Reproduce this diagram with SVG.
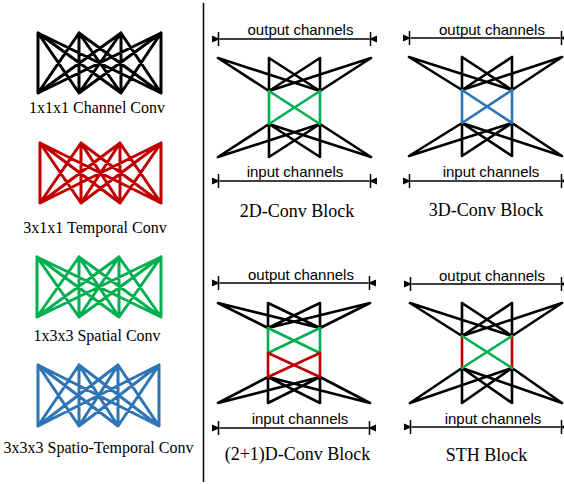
<svg xmlns="http://www.w3.org/2000/svg" width="564" height="484" viewBox="0 0 564 484">
<style>
.lbl{font-family:"Liberation Serif","Times New Roman",serif;font-size:16px;fill:#000;text-anchor:middle}
.blk{font-family:"Liberation Serif","Times New Roman",serif;font-size:18px;fill:#000;text-anchor:middle}
.ch{font-family:"Liberation Sans",Arial,sans-serif;font-size:15px;fill:#000;text-anchor:middle}
.e{fill:none;stroke-width:3;stroke-linecap:round;stroke-linejoin:round}
.b{fill:none;stroke-width:2.6;stroke-linecap:round;stroke-linejoin:round}
.k{stroke:#000}
.r{stroke:#C00000}
.g{stroke:#00B050}
.u{stroke:#2E75B6}
.dim{stroke:#000;stroke-width:1.5;fill:none}
</style>
<defs>
<marker id="ah" viewBox="0 0 8 8" refX="0.5" refY="4" markerWidth="8" markerHeight="8" markerUnits="userSpaceOnUse" orient="auto-start-reverse">
<path d="M0 4L8 0.5L8 7.5Z" fill="#000"/>
</marker>
</defs>
<line x1="203.5" y1="3" x2="203.5" y2="482" stroke="#000" stroke-width="1.5"/>

<g id="channel-conv">
<path class="e k" d="M38 33L38 93M38 33L79 93M38 33L121 93M38 33L161 93M79 33L38 93M79 33L79 93M79 33L121 93M79 33L161 93M121 33L38 93M121 33L79 93M121 33L121 93M121 33L161 93M161 33L38 93M161 33L79 93M161 33L121 93M161 33L161 93"/>
<text class="lbl" x="97" y="113">1x1x1 Channel Conv</text>
</g>
<g id="temporal-conv">
<path class="e r" d="M40 143L40 203M40 143L81 203M40 143L120 203M40 143L161 203M81 143L40 203M81 143L81 203M81 143L120 203M81 143L161 203M120 143L40 203M120 143L81 203M120 143L120 203M120 143L161 203M161 143L40 203M161 143L81 203M161 143L120 203M161 143L161 203"/>
<text class="lbl" x="95" y="233">3x1x1 Temporal Conv</text>
</g>
<g id="spatial-conv">
<path class="e g" d="M37 257L37 317M37 257L79 317M37 257L119 317M37 257L161 317M79 257L37 317M79 257L79 317M79 257L119 317M79 257L161 317M119 257L37 317M119 257L79 317M119 257L119 317M119 257L161 317M161 257L37 317M161 257L79 317M161 257L119 317M161 257L161 317"/>
<text class="lbl" x="97" y="341">1x3x3 Spatial Conv</text>
</g>
<g id="spatiotemporal-conv">
<path class="e u" d="M38 365L38 426M38 365L79 426M38 365L118 426M38 365L159 426M79 365L38 426M79 365L79 426M79 365L118 426M79 365L159 426M118 365L38 426M118 365L79 426M118 365L118 426M118 365L159 426M159 365L38 426M159 365L79 426M159 365L118 426M159 365L159 426"/>
<text class="lbl" x="98.5" y="453">3x3x3 Spatio-Temporal Conv</text>
</g>

<g id="block-2d">
<path class="b k" d="M218 58L269 91M218 58L320 91M269 58L269 91M269 58L320 91M320 58L269 91M320 58L320 91M371 58L269 91M371 58L320 91M269 124L218 157M320 124L218 157M269 124L269 157M269 124L320 157M320 124L269 157M320 124L320 157M269 124L371 157M320 124L371 157"/>
<path class="b g" d="M269 91L269 124M320 91L320 124M269 91L320 124M320 91L269 124"/>
<text class="ch" x="300.5" y="35">output channels</text>
<text class="ch" x="295" y="177">input channels</text>
<text class="blk" x="297" y="217">2D-Conv Block</text>
</g>
<g id="block-3d">
<path class="b k" d="M409 57L462 90M409 57L512 90M462 57L462 90M462 57L512 90M512 57L462 90M512 57L512 90M562 57L462 90M562 57L512 90M462 123L409 156M512 123L409 156M462 123L462 156M462 123L512 156M512 123L462 156M512 123L512 156M462 123L562 156M512 123L562 156"/>
<path class="b u" d="M462 90L462 123M512 90L512 123M462 90L512 123M512 90L462 123"/>
<text class="ch" x="492" y="34.5">output channels</text>
<text class="ch" x="491" y="177">input channels</text>
<text class="blk" x="486" y="215.5">3D-Conv Block</text>
</g>
<g id="block-2plus1d">
<path class="b k" d="M218 303L268 328M218 303L320 328M268 303L268 328M268 303L320 328M320 303L268 328M320 303L320 328M370 303L268 328M370 303L320 328M268 377L218 403M320 377L218 403M268 377L268 403M268 377L320 403M320 377L268 403M320 377L320 403M268 377L370 403M320 377L370 403"/>
<path class="b g" d="M268 328L268 353M320 328L320 353M268 328L320 353M320 328L268 353"/>
<path class="b r" d="M268 353L268 377M320 353L320 377M268 353L320 377M320 353L268 377"/>
<text class="ch" x="301" y="280">output channels</text>
<text class="ch" x="300" y="424">input channels</text>
<text class="blk" x="297.5" y="460">(2+1)D-Conv Block</text>
</g>
<g id="block-sth">
<path class="b k" d="M410 303L462 336M410 303L512 336M462 303L462 336M462 303L512 336M512 303L462 336M512 303L512 336M562 303L462 336M562 303L512 336M462 368L410 403M512 368L410 403M462 368L462 403M462 368L512 403M512 368L462 403M512 368L512 403M462 368L562 403M512 368L562 403"/>
<path class="b r" d="M462 336L462 368M512 336L512 368"/>
<path class="b g" d="M462 336L512 368M512 336L462 368"/>
<text class="ch" x="492" y="281">output channels</text>
<text class="ch" x="493" y="424">input channels</text>
<text class="blk" x="486.5" y="461">STH Block</text>
</g>

<g id="connectors">
<path class="dim" d="M218.5 32V46M370.5 32V46M409.5 31V45M561.5 31V45M218.5 174V188M370.5 174V188M409.5 174V188M561.5 174V188M218.5 276V290M369.5 276V290M410.5 277V291M561.5 277V291M218.5 421V435M369.5 421V435M410.5 420V434M561.5 420V434"/>
<line class="dim" x1="219.5" y1="39" x2="369.5" y2="39" marker-start="url(#ah)" marker-end="url(#ah)"/>
<line class="dim" x1="410.5" y1="38" x2="560.5" y2="38" marker-start="url(#ah)" marker-end="url(#ah)"/>
<line class="dim" x1="219.5" y1="181" x2="369.5" y2="181" marker-start="url(#ah)" marker-end="url(#ah)"/>
<line class="dim" x1="410.5" y1="181" x2="560.5" y2="181" marker-start="url(#ah)" marker-end="url(#ah)"/>
<line class="dim" x1="219.5" y1="283" x2="368.5" y2="283" marker-start="url(#ah)" marker-end="url(#ah)"/>
<line class="dim" x1="411.5" y1="284" x2="560.5" y2="284" marker-start="url(#ah)" marker-end="url(#ah)"/>
<line class="dim" x1="219.5" y1="428" x2="368.5" y2="428" marker-start="url(#ah)" marker-end="url(#ah)"/>
<line class="dim" x1="411.5" y1="427" x2="560.5" y2="427" marker-start="url(#ah)" marker-end="url(#ah)"/>
</g>
</svg>
